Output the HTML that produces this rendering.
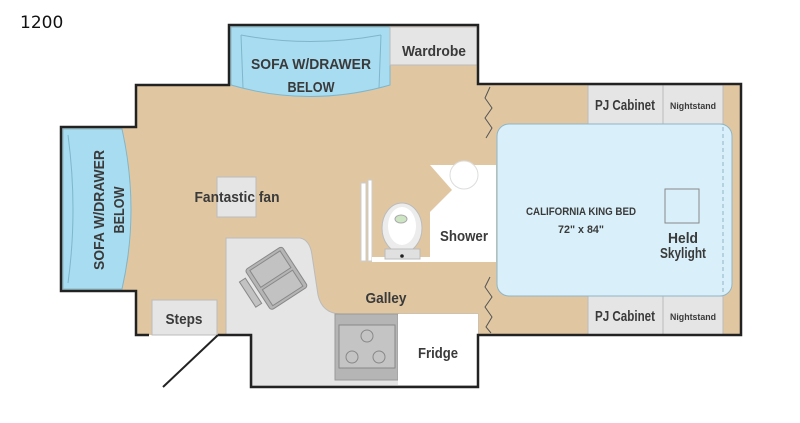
<!DOCTYPE html>
<html><head><style>
body{margin:0;background:#fff;width:800px;height:418px;overflow:hidden}
text{font-family:"Liberation Sans",sans-serif;font-weight:bold;fill:#3a3a3a}
</style></head><body>
<svg width="800" height="418" viewBox="0 0 800 418" xmlns="http://www.w3.org/2000/svg">
<text x="20" y="28" style="font-family:'DejaVu Sans',sans-serif;font-weight:normal;font-size:17px;fill:#111">1200</text>
<path d="M61,127 H136 V85 H229 V25 H478 V84 H741 V335 H478 V387 H251 V335 H136 V291 H61 Z" fill="#e0c7a2"/>
<path d="M226,238 H300 Q310,240 312,255 L318,295 Q322,313 340,314 H478 V386 H252 V335 H226 Z" fill="#e5e5e5" stroke="#bbb" stroke-width="1"/>
<rect x="335" y="314" width="63" height="66" fill="#b5b5b5" stroke="#999"/>
<rect x="339" y="325" width="56" height="43" fill="#c4c4c4" stroke="#888"/>
<circle cx="367" cy="336" r="6" fill="#c4c4c4" stroke="#888"/>
<circle cx="352" cy="357" r="6" fill="#c4c4c4" stroke="#888"/>
<circle cx="379" cy="357" r="6" fill="#c4c4c4" stroke="#888"/>
<rect x="398" y="314" width="80" height="71" fill="#fff"/>
<g transform="rotate(-33 275 278)">
<rect x="254" y="255" width="44" height="48" rx="3" fill="#b5b5b5" stroke="#888"/>
<rect x="258" y="258" width="36" height="20" fill="#c2c2c2" stroke="#888"/>
<rect x="258" y="281" width="36" height="19" fill="#c2c2c2" stroke="#888"/>
<rect x="243" y="262" width="7" height="30" fill="#c2c2c2" stroke="#888"/>
</g>
<rect x="152" y="300" width="65" height="35" fill="#e5e5e5" stroke="#bbb"/>
<path d="M231,27 H390 V85 Q310,108 231,85 Z" fill="#a8dcf0" stroke="#7fb6cc"/>
<path d="M241,35 Q310,48 381,35" fill="none" stroke="#7fb6cc"/>
<line x1="241" y1="35" x2="243" y2="88" stroke="#7fb6cc"/>
<line x1="381" y1="35" x2="379" y2="88" stroke="#7fb6cc"/>
<rect x="390" y="27" width="87" height="38" fill="#e5e5e5" stroke="#bbb"/>
<path d="M63,129 H122 Q140,210 122,289 H63 Z" fill="#a8dcf0" stroke="#7fb6cc"/>
<path d="M68,135 Q78,210 68,283" fill="none" stroke="#7fb6cc"/>
<rect x="217" y="177" width="39" height="40" fill="#e5e5e5" stroke="#bbb"/>
<path d="M430,165 H496 V262 H430 V212 L452,190 Z" fill="#fff"/>
<circle cx="464" cy="175" r="14" fill="#fff" stroke="#ddd"/>
<rect x="361" y="183" width="5" height="78" fill="#fff" stroke="#ccc"/>
<rect x="368" y="180" width="4" height="81" fill="#fff" stroke="#ccc"/>
<rect x="372" y="257" width="58" height="5" fill="#fff"/>
<ellipse cx="402" cy="228" rx="20" ry="25" fill="#ececec" stroke="#bbb"/>
<ellipse cx="402" cy="226" rx="14" ry="19" fill="#fff"/>
<ellipse cx="401" cy="219" rx="6" ry="4" fill="#cde5c2" stroke="#aaa"/>
<rect x="385" y="249" width="35" height="10" fill="#e0e0e0" stroke="#bbb"/>
<circle cx="402" cy="256" r="1.8" fill="#222"/>
<path d="M490,87 L485,98 L492,108 L485,118 L492,128 L486,138" fill="none" stroke="#555"/>
<path d="M490,277 L485,287 L492,297 L485,307 L492,317 L486,327 L491,333" fill="none" stroke="#555"/>
<rect x="588" y="85" width="75" height="39" fill="#e5e5e5" stroke="#bbb"/>
<rect x="663" y="85" width="60" height="39" fill="#e5e5e5" stroke="#bbb"/>
<rect x="588" y="296" width="75" height="39" fill="#e5e5e5" stroke="#bbb"/>
<rect x="663" y="296" width="60" height="39" fill="#e5e5e5" stroke="#bbb"/>
<rect x="497" y="124" width="235" height="172" rx="12" fill="#d9f0fa" stroke="#8fb5c5"/>
<line x1="723" y1="127" x2="723" y2="294" stroke="#8fb5c5" stroke-dasharray="4,3"/>
<rect x="665" y="189" width="34" height="34" fill="#d9f0fa" stroke="#888"/>
<path d="M218,335 H251 V387 H478 V335 H741 V84 H478 V25 H229 V85 H136 V127 H61 V291 H136 V335 H149" fill="none" stroke="#222" stroke-width="2.5"/>
<line x1="218" y1="335" x2="163" y2="387" stroke="#222" stroke-width="2"/>
<g font-size="15" text-anchor="middle" lengthAdjust="spacingAndGlyphs">
<text x="311" y="69" textLength="120" lengthAdjust="spacingAndGlyphs">SOFA W/DRAWER</text>
<text x="311" y="92" textLength="47" lengthAdjust="spacingAndGlyphs">BELOW</text>
<text x="434" y="56" textLength="64" lengthAdjust="spacingAndGlyphs">Wardrobe</text>
<text x="237" y="202" textLength="85" lengthAdjust="spacingAndGlyphs">Fantastic fan</text>
<text x="464" y="241" textLength="48" lengthAdjust="spacingAndGlyphs">Shower</text>
<text x="386" y="303" textLength="41" lengthAdjust="spacingAndGlyphs">Galley</text>
<text x="184" y="324" textLength="37" lengthAdjust="spacingAndGlyphs">Steps</text>
<text x="438" y="358" textLength="40" lengthAdjust="spacingAndGlyphs">Fridge</text>
<text x="625" y="110" textLength="60" lengthAdjust="spacingAndGlyphs">PJ Cabinet</text>
<text x="625" y="321" textLength="60" lengthAdjust="spacingAndGlyphs">PJ Cabinet</text>
<text x="683" y="243" textLength="30" lengthAdjust="spacingAndGlyphs">Held</text>
<text x="683" y="258" textLength="46" lengthAdjust="spacingAndGlyphs">Skylight</text>
<text transform="translate(104,210) rotate(-90)" x="0" y="0" textLength="120" lengthAdjust="spacingAndGlyphs">SOFA W/DRAWER</text>
<text transform="translate(124,210) rotate(-90)" x="0" y="0" textLength="47" lengthAdjust="spacingAndGlyphs">BELOW</text>
</g>
<g font-size="11" text-anchor="middle">
<text x="581" y="215" textLength="110" lengthAdjust="spacingAndGlyphs">CALIFORNIA KING BED</text>
<text x="581" y="233" textLength="46" lengthAdjust="spacingAndGlyphs">72" x 84"</text>
<text x="693" y="109" font-size="9" textLength="46" lengthAdjust="spacingAndGlyphs">Nightstand</text>
<text x="693" y="320" font-size="9" textLength="46" lengthAdjust="spacingAndGlyphs">Nightstand</text>
</g>
</svg>
</body></html>
